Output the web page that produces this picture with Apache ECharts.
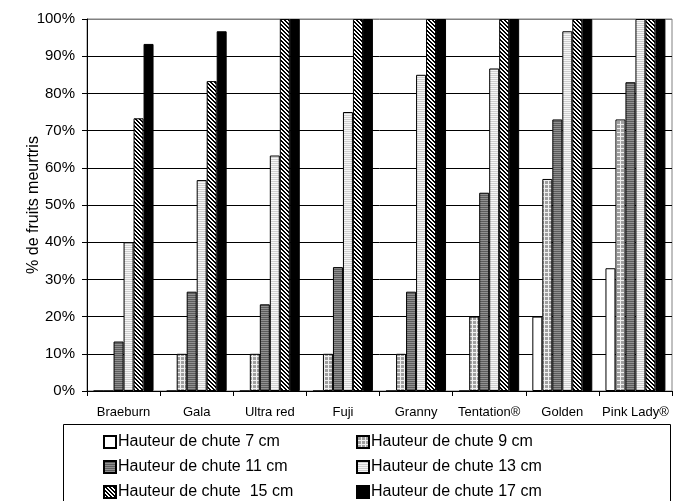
<!DOCTYPE html>
<html><head><meta charset="utf-8">
<script src="https://cdn.jsdelivr.net/npm/echarts@6/dist/echarts.min.js"></script>
<style>html,body{margin:0;padding:0;background:#fff}#c{width:678px;height:501px}</style>
</head><body><div id="c"></div>
<script>
const categories = ['Braeburn','Gala','Ultra red','Fuji','Granny','Tentation®','Golden','Pink Lady®'];
const seriesNames = ['Hauteur de chute 7 cm','Hauteur de chute 9 cm','Hauteur de chute 11 cm','Hauteur de chute 13 cm','Hauteur de chute  15 cm','Hauteur de chute 17 cm'];
const h7  = [0, 0, 0, 0, 0, 0, 20, 33];
const h9  = [0, 10, 10, 10, 10, 20, 57, 73];
const h11 = [13.3, 26.7, 23.3, 33.3, 26.7, 53.3, 73, 83];
const h13 = [40, 56.7, 63.3, 75, 85, 86.7, 96.7, 100];
const h15 = [73.3, 83.3, 100, 100, 100, 100, 100, 100];
const h17 = [93.3, 96.7, 100, 100, 100, 100, 100, 100];
const yTicks = [0,10,20,30,40,50,60,70,80,90,100];

function pat(w,h,draw){const c=document.createElement('canvas');c.width=w;c.height=h;const g=c.getContext('2d');draw(g);return {image:c,repeat:'repeat'};}
const fills = [
  '#ffffff',
  pat(4,4,g=>{g.fillStyle='#a0a0a0';g.fillRect(0,0,4,4);g.fillStyle='#f0f0f0';g.fillRect(0,0,4,1);g.fillRect(0,0,1,4);}),
  pat(1,2,g=>{g.fillStyle='#909090';g.fillRect(0,0,1,1);g.fillStyle='#5c5c5c';g.fillRect(0,1,1,1);}),
  pat(1,2,g=>{g.fillStyle='#f6f6f6';g.fillRect(0,0,1,1);g.fillStyle='#cfcfcf';g.fillRect(0,1,1,1);}),
  pat(4,4,g=>{g.fillStyle='#ffffff';g.fillRect(0,0,4,4);g.fillStyle='#000000';for(let i=0;i<4;i++){g.fillRect(i,i,1,1);g.fillRect((i+1)%4,i,1,1);}}),
  '#000000'
];
const data = [h7,h9,h11,h13,h15,h17];
const font = '"Liberation Sans", Arial, sans-serif';

// legend slots: column x and row y (center) per series
const legendCols = [103, 356, 103, 356, 103, 356];
const legendRows = [442, 442, 467, 467, 492, 492];

const chart = echarts.init(document.getElementById('c'), null, {renderer:'canvas'});
const splitColors = yTicks.map((v,i)=> i===yTicks.length-1 ? '#808080' : '#000000');
chart.setOption({
  animation:false,
  backgroundColor:'#ffffff',
  grid:{left:87, right:6, top:19, bottom:110, show:true, borderColor:'#808080', borderWidth:1},
  legend: seriesNames.map((n,i)=>({
    orient:'horizontal', left:legendCols[i], top:legendRows[i]-8, padding:0,
    itemWidth:12, itemHeight:12, icon:'rect', data:[n],
    textStyle:{fontFamily:font, fontSize:16, color:'#000', lineHeight:16, padding:[0,0,0,-3]}
  })),
  graphic:[{type:'rect', shape:{x:63.5, y:424.5, width:607, height:90}, style:{fill:null, stroke:'#000', lineWidth:1}, z:-1}],
  xAxis:{type:'category', data:categories,
    axisLine:{lineStyle:{color:'#000', width:1}},
    axisTick:{show:true, length:5, lineStyle:{color:'#000'}},
    axisLabel:{fontFamily:font, fontSize:13, color:'#000', margin:15, interval:0}},
  yAxis:{type:'value', min:0, max:100, interval:10,
    name:'% de fruits meurtris', nameLocation:'middle', nameGap:45, nameRotate:90, nameMoveOverlap:false,
    nameTextStyle:{fontFamily:font, fontSize:16, color:'#000'},
    axisLine:{show:true, lineStyle:{color:'#000', width:1}},
    axisTick:{show:true, length:5, lineStyle:{color:'#000'}},
    axisLabel:{fontFamily:font, fontSize:15, color:'#000', margin:12, formatter:'{value}%'},
    splitLine:{show:true, lineStyle:{color:splitColors, width:1}}},
  series: data.map((d,i)=>({
    name:seriesNames[i], type:'bar', data:d,
    barGap:'0%', barCategoryGap:'18%',
    itemStyle:{color:fills[i], borderColor:'#000', borderWidth:1}
  }))
});
</script></body></html>
